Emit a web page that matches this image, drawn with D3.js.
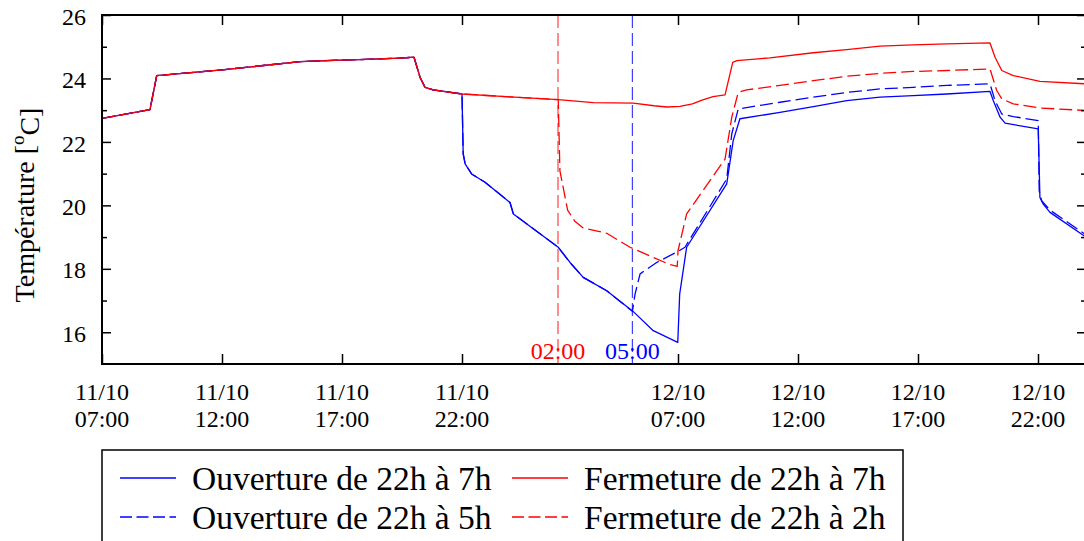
<!DOCTYPE html>
<html>
<head>
<meta charset="utf-8">
<title>Température - ouverture / fermeture</title>
<script src="https://d3js.org/d3.v7.min.js"></script>
<style>
  body { margin:0; background:#ffffff; }
  svg text { font-family:"Liberation Serif", "DejaVu Serif", serif; fill:#000; }
  .serie { fill:none; stroke-width:1.3; stroke-linejoin:round; }
  .frame { fill:none; stroke:#000; stroke-width:2; }
  .tick line { stroke:#000; stroke-width:1.5; }
  .legendbox { fill:#fff; stroke:#000; stroke-width:1.5; }
</style>
</head>
<body>
<div id="chart"></div>
<script>
// hours since 11/10 07:00, temperature in degC
var common = [[0,22.74],[2.0,23.02],[2.28,24.09],[5,24.27],[8.25,24.53],[10,24.58],[11,24.6],[12.4,24.64],[13.0,24.67],[13.25,24.04],[13.46,23.72],[13.8,23.64],[15.0,23.51]];

// fermeture: same until 02:00
var fermShared = [[17,23.42],[19.01,23.33]];
var ferm7Tail = [[20.47,23.24],[22.14,23.22],[23.0,23.14],[23.53,23.10],[24.08,23.12],[24.6,23.2],[25.0,23.32],[25.46,23.43],[25.96,23.48],[26.28,24.51],[26.45,24.56],[27.83,24.65],[29.64,24.81],[31.03,24.91],[32.42,25.02],[33.8,25.06],[35.2,25.09],[37.0,25.12],[37.21,24.67],[37.49,24.25],[37.97,24.09],[39.08,23.91],[41,23.83]];
var ferm2Tail = [[19.08,21.09],[19.4,19.85],[19.7,19.5],[20.05,19.29],[21.03,19.12],[22.0,18.68],[22.97,18.36],[23.67,18.13],[23.97,18.08],[24.0,18.57],[24.36,19.73],[25.96,21.46],[26.24,22.78],[26.51,23.56],[26.86,23.64],[28.25,23.78],[29.64,23.93],[31.03,24.07],[32.42,24.16],[33.8,24.22],[35.2,24.25],[37.0,24.30],[37.28,23.62],[37.49,23.36],[37.97,23.2],[39.08,23.07],[41,22.99]];

// ouverture: same until 05:00
var ouvShared = [[15.05,21.62],[15.13,21.31],[15.4,20.99],[15.96,20.73],[17.0,20.09],[17.14,19.73],[19.01,18.68],[19.5,18.2],[20.05,17.73],[21.03,17.31]];
var ouv7Tail = [[22.14,16.65],[22.97,16.05],[23.99,15.68],[24.07,17.2],[24.36,18.68],[26.03,20.68],[26.3,22.04],[26.58,22.73],[28.25,22.93],[29.64,23.11],[31.03,23.30],[32.42,23.41],[33.8,23.46],[35.2,23.51],[37.0,23.59],[37.14,23.30],[37.42,22.78],[37.63,22.59],[39.01,22.41],[39.08,20.25],[39.22,20.04],[39.5,19.78],[41,19.0]];
var ouv5Tail = [[22.1,16.66],[22.21,17.2],[22.42,17.84],[23.11,18.2],[24.05,18.57],[24.29,18.68],[26.03,20.83],[26.24,22.25],[26.51,23.04],[28.25,23.25],[29.64,23.41],[31.03,23.56],[32.42,23.67],[33.8,23.72],[35.2,23.78],[37.0,23.83],[37.21,23.30],[37.49,22.88],[37.97,22.80],[39.01,22.67],[39.05,20.46],[39.15,20.15],[39.5,19.85],[41,19.07]];

var seriesNames = ["Ouverture de 22h à 7h", "Fermeture de 22h à 7h", "Ouverture de 22h à 5h", "Fermeture de 22h à 2h"];
var seriesColors = ["#0000ff", "#ff0000", "#0000ff", "#ff0000"];
var seriesDashed = [false, false, true, true];

var markerHours = [19, 22.1];
var markerLabels = ["02:00", "05:00"];
var markerColors = ["#ff0000", "#0000ff"];

var xTickHours = [0, 5, 10, 15, 24, 29, 34, 39];
var yMajor = [16, 18, 20, 22, 24, 26];
var yMinor = [17, 19, 21, 23, 25];

var seriesData = [
  common.concat(ouvShared, ouv7Tail),
  common.concat(fermShared, ferm7Tail),
  common.concat(ouvShared, ouv5Tail),
  common.concat(fermShared, ferm2Tail)
];

var start = new Date(2014, 9, 11, 7, 0);
function at(h) { return new Date(start.getTime() + h * 3600e3); }

var width = 1084, height = 541;
var plot = {left:102, right:1086, top:15, bottom:364};
var dash = "13,5";

var svg = d3.select("#chart").append("svg")
  .attr("width", width).attr("height", height);
svg.append("rect").attr("width", width).attr("height", height).attr("fill", "#fff");

var x = d3.scaleTime().domain([at(0), at(41)]).range([plot.left, plot.right]);
var y = d3.scaleLinear().domain([15, 26]).range([plot.bottom, plot.top]);

svg.append("clipPath").attr("id", "clip")
  .append("rect").attr("x", plot.left).attr("y", plot.top)
  .attr("width", plot.right - plot.left).attr("height", plot.bottom - plot.top);

// marker lines
markerHours.forEach(function(h, i) {
  svg.append("line")
    .attr("x1", x(at(h))).attr("x2", x(at(h)))
    .attr("y1", plot.top).attr("y2", plot.bottom)
    .attr("stroke", markerColors[i]).attr("stroke-opacity", 0.75)
    .attr("stroke-width", 1.2).attr("stroke-dasharray", dash);
  svg.append("text")
    .attr("x", x(at(h))).attr("y", 359)
    .attr("text-anchor", "middle").attr("font-size", 24)
    .style("fill", markerColors[i])
    .text(markerLabels[i]);
});

var line = d3.line()
  .x(function(d) { return x(at(d[0])); })
  .y(function(d) { return y(d[1]); });

var g = svg.append("g").attr("clip-path", "url(#clip)");
seriesData.forEach(function(s, i) {
  g.append("path").attr("class", "serie")
    .attr("d", line(s))
    .attr("stroke", seriesColors[i])
    .attr("stroke-dasharray", seriesDashed[i] ? dash : null);
});

// axes (ticks inward, mirrored)
var xt = xTickHours.map(at);
svg.append("g").attr("transform", "translate(0," + plot.bottom + ")")
  .call(d3.axisBottom(x).tickValues(xt).tickSize(-10).tickFormat(""));
svg.append("g").attr("transform", "translate(0," + plot.top + ")")
  .call(d3.axisTop(x).tickValues(xt).tickSize(-10).tickFormat(""));
svg.append("g").attr("transform", "translate(" + plot.left + ",0)")
  .call(d3.axisLeft(y).tickValues(yMajor).tickSize(-9).tickPadding(16).tickFormat(d3.format("d")));
svg.append("g").attr("transform", "translate(" + plot.left + ",0)")
  .call(d3.axisLeft(y).tickValues(yMinor).tickSize(-5).tickFormat(""));
svg.append("g").attr("transform", "translate(" + plot.right + ",0)")
  .call(d3.axisRight(y).tickValues(yMajor).tickSize(-9).tickFormat(""));
svg.append("g").attr("transform", "translate(" + plot.right + ",0)")
  .call(d3.axisRight(y).tickValues(yMinor).tickSize(-5).tickFormat(""));
svg.selectAll(".domain").remove();
svg.selectAll(".tick text").attr("font-size", 24).attr("dy", "0.38em")
  .style("font-family", "Liberation Serif, DejaVu Serif, serif").attr("fill", "#000");

var fDay = d3.timeFormat("%d/%m"), fHour = d3.timeFormat("%H:%M");
xt.forEach(function(d) {
  var t = svg.append("text").attr("text-anchor", "middle").attr("font-size", 24);
  t.append("tspan").attr("x", x(d)).attr("y", 400).text(fDay(d));
  t.append("tspan").attr("x", x(d)).attr("y", 427).text(fHour(d));
});

svg.append("path").attr("class", "frame")
  .attr("d", "M" + plot.right + "," + plot.top + "H" + plot.left + "V" + plot.bottom + "H" + plot.right);

// y title
var yt = svg.append("text")
  .attr("transform", "translate(34,205) rotate(-90)")
  .attr("text-anchor", "middle").attr("font-size", 28);
yt.append("tspan").text("Température [");
yt.append("tspan").attr("font-size", 19).attr("dy", "-0.55em").text("o");
yt.append("tspan").attr("dy", "0.55em").text("C]");

// legend
svg.append("rect").attr("class", "legendbox")
  .attr("x", 102).attr("y", 450).attr("width", 801).attr("height", 110);
var legCols = [120, 512], legRows = [478, 517];
seriesNames.forEach(function(name, i) {
  var cx = legCols[i % 2], cy = legRows[Math.floor(i / 2)];
  svg.append("line")
    .attr("x1", cx).attr("x2", cx + 56).attr("y1", cy).attr("y2", cy)
    .attr("stroke", seriesColors[i]).attr("stroke-width", 1.3)
    .attr("stroke-dasharray", seriesDashed[i] ? "12,4.5" : null);
  svg.append("text")
    .attr("x", cx + 72).attr("y", cy + 12)
    .attr("font-size", 33.5)
    .text(name);
});
</script>
</body>
</html>
